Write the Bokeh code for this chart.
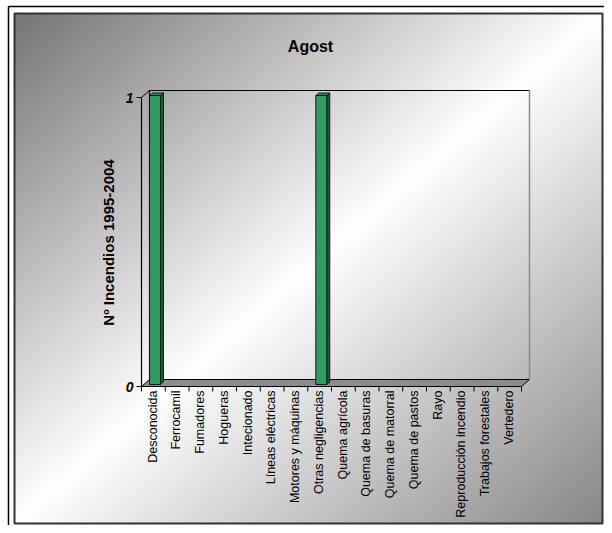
import numpy as np
from bokeh.plotting import figure
from bokeh.models import Range1d, ColumnDataSource
from bokeh.core.properties import value
from bokeh.embed import file_html
from bokeh.resources import INLINE

# ---------------- data ----------------
title_text = "Agost"
y_label = "Nº Incendios 1995-2004"
categories = ["Desconocida", "Ferrocamil", "Fumadores", "Hogueras", "Intecionado",
              "Líneas eléctricas", "Motores y máquinas", "Otras negligencias",
              "Quema agrícola", "Quema de basuras", "Quema de matorral",
              "Quema de pastos", "Rayo", "Reproducción incendio",
              "Trabajos forestales", "Vertedero"]
counts = [1, 0, 0, 0, 0, 0, 0, 1, 0, 0, 0, 0, 0, 0, 0, 0]
y_ticks = [0, 1]
y_tick_labels = ["0", "1"]

FONT = "Liberation Sans"

# ---------------- geometry (screen -> data) ----------------
W, H = 604, 525
OFF = 0
U = 23.75          # px per category
V = 289.0          # px per count unit
X0, Y0 = 141, 386  # picture px of origin (x=0, y=0)
def dx(px): return px / U
def dy(px): return px / V
def X(px): return (px - X0) / U
def Y(py): return (Y0 - py) / V

x_range = Range1d(X(OFF), X(OFF + W))
y_range = Range1d(Y(OFF + H), Y(OFF))

p = figure(width=W, height=H, x_range=x_range, y_range=y_range,
           x_axis_type=None, y_axis_type=None, toolbar_location=None,
           output_backend="svg", min_border=0)
p.outline_line_color = None
p.background_fill_color = "white"
p.border_fill_color = "white"

n = len(categories)
DX, DY = dx(8), dy(7)   # 3-D depth offset

# ---------------- background gradient ----------------
GW, GH = 300, 260
cols = np.linspace(0, 1, GW)[None, :]
rows = np.linspace(0, 1, GH)[:, None]      # row 0 at the bottom
t = (cols + (1 - rows)) / 2.0
c0, c1 = 118.0, 136.0
c = np.where(t < 0.5, c0 + (255 - c0) * (t / 0.5), 255 - (255 - c1) * ((t - 0.5) / 0.5))
img = np.zeros((GH, GW, 4), dtype=np.uint8)
img[..., 0] = c
img[..., 1] = c
img[..., 2] = c
img[..., 3] = 255
img32 = img.view(np.uint32).reshape(GH, GW)
bx0, by0, bx1, by1 = 14, 13, 602, 523
p.image_rgba(image=[img32], x=X(bx0), y=Y(by1), dw=dx(bx1 - bx0), dh=dy(by1 - by0))
# inner box border
p.quad(left=X(bx0), right=X(bx1), bottom=Y(by1), top=Y(by0),
       fill_color=None, line_color="#333333", line_width=2)
# outer frame (left and top lines)
p.line(x=[X(8), X(8)], y=[Y(540), Y(6)], line_color="black", line_width=1.5)
p.line(x=[X(8), X(620)], y=[Y(6), Y(6)], line_color="black", line_width=1.5)

# ---------------- 3-D frame ----------------
ymax = max(y_ticks)
# floor
p.patch(x=[0, n, n + DX, DX], y=[0, 0, DY, DY],
        fill_color="#8c8c8c", line_color="black", line_width=1)
# back wall edges
p.line(x=[DX, DX, n + DX], y=[DY, ymax + DY, ymax + DY], line_color="black", line_width=1.2)
p.line(x=[n + DX, n + DX], y=[DY, ymax + DY], line_color="#8a8a8a", line_width=1.5)
# side wall / value axis
p.line(x=[0, 0], y=[0, ymax], line_color="black", line_width=1.2)
p.line(x=[0, DX], y=[ymax, ymax + DY], line_color="black", line_width=1)

# value axis ticks and labels
for v in y_ticks:
    p.line(x=[dx(-5), 0], y=[v, v], line_color="black", line_width=1)
p.text(x=[dx(-8)] * len(y_ticks), y=y_ticks, text=y_tick_labels,
       text_font=value(FONT), text_font_style="bold italic",
       text_font_size="14px", text_align="right", text_baseline="middle",
       text_color="black")

# category ticks
for i in range(n + 1):
    p.line(x=[i, i], y=[0, dy(-5)], line_color="black", line_width=1)

# category labels
p.text(x=[i + 0.47 for i in range(n)], y=[dy(-4)] * n, text=categories, angle=np.pi / 2,
       text_font=value(FONT), text_font_size="12.5px",
       text_align="right", text_baseline="middle", text_color="black")

# ---------------- bars ----------------
cnt = np.array(counts, dtype=float)
idx = np.nonzero(cnt > 0)[0]
zb = dy(2)                 # bar sits slightly behind the front edge
bl = idx + 0.34
br = idx + 0.80
bb = np.full(len(idx), zb)
bt = cnt[idx] + zb
sdx, sdy = dx(3), dy(2.5)
front = ColumnDataSource(dict(
    xs=[[l, r, r, l] for l, r in zip(bl, br)],
    ys=[[b, b, t_, t_] for b, t_ in zip(bb, bt)]))
side = ColumnDataSource(dict(
    xs=[[r, r + sdx, r + sdx, r] for r in br],
    ys=[[b, b + sdy, t_ + sdy, t_] for b, t_ in zip(bb, bt)]))
top = ColumnDataSource(dict(
    xs=[[l, r, r + sdx, l + sdx] for l, r in zip(bl, br)],
    ys=[[t_, t_, t_ + sdy, t_ + sdy] for t_ in bt]))
p.patches("xs", "ys", source=side, fill_color="#1d5a3b", line_color="#0a1f14", line_width=1)
p.patches("xs", "ys", source=front, fill_color="#339966", line_color="#0a1f14", line_width=1)
p.patches("xs", "ys", source=top, fill_color="#2e8b5c", line_color="#0a1f14", line_width=1)

# ---------------- titles ----------------
p.text(x=[X(310)], y=[Y(46)], text=[title_text],
       text_font=value(FONT), text_font_style="bold",
       text_font_size="16px", text_align="center", text_baseline="alphabetic",
       text_color="black")
p.text(x=[X(108)], y=[Y(242)], text=[y_label], angle=np.pi / 2,
       text_font=value(FONT), text_font_style="bold",
       text_font_size="15px", text_align="center", text_baseline="middle",
       text_color="black")

open("out.html", "w").write(file_html(p, INLINE))
